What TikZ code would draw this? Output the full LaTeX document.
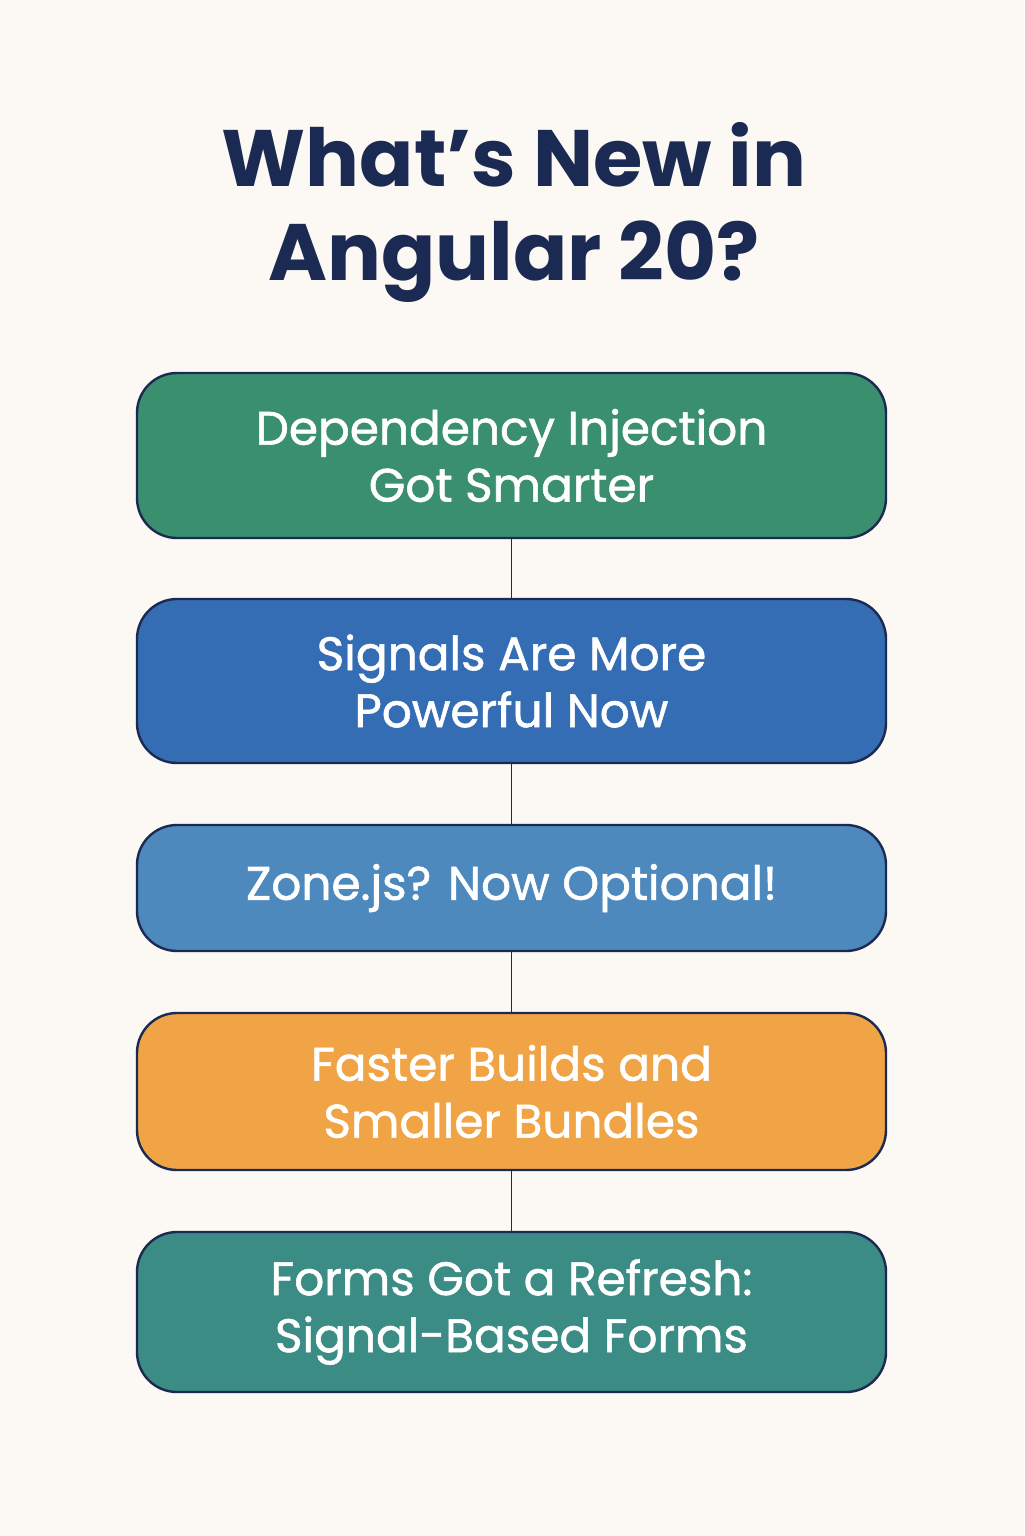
\documentclass[tikz,border=0pt]{standalone}
\usepackage{fontspec}
\setmainfont{Poppins}
\newfontfamily\cardfont{Poppins}[FakeBold=1.2]
\newfontfamily\titlefont{Poppins}[BoldFont=*,BoldFeatures={FakeBold=2.5}]
\definecolor{bg}{HTML}{FCF8F4}
\definecolor{navy}{HTML}{1B2A52}
\definecolor{cA}{HTML}{3A8F6E}
\definecolor{cB}{HTML}{356DB5}
\definecolor{cC}{HTML}{4E89BD}
\definecolor{cD}{HTML}{F0A445}
\definecolor{cE}{HTML}{3A8C84}
\begin{document}
\begin{tikzpicture}[x=0.5pt,y=-0.5pt,
  card/.style={draw=navy,line width=1.2pt,rounded corners=20pt,minimum width=374.5pt,text=white,align=center,font=\cardfont\fontsize{23.5}{28.5}\selectfont},
  link/.style={draw=navy,line width=0.6pt}]
\fill[bg] (0,0) rectangle (1024,1536);
\useasboundingbox (0,0) rectangle (1024,1536);
\node[text=navy,font=\bfseries\fontsize{40}{47}\selectfont,align=center] (title) at (514,212) {What’s New in\\Angular 20?};
\node[card,fill=cA,minimum height=82.5pt] (a) at (511.5,455.5) {Dependency Injection\\Got Smarter};
\node[card,fill=cB,minimum height=82pt] (b) at (511.5,681) {Signals Are More\\Powerful Now};
\node[card,fill=cC,minimum height=63pt] (c) at (511.5,888) {Zone.js? Now Optional!};
\node[card,fill=cD,minimum height=78.5pt] (d) at (511.5,1091.5) {Faster Builds and\\Smaller Bundles};
\node[card,fill=cE,minimum height=80pt] (e) at (511.5,1312) {Forms Got a Refresh:\\Signal-Based Forms};
\draw[link] (a) -- (b);
\draw[link] (b) -- (c);
\draw[link] (c) -- (d);
\draw[link] (d) -- (e);
\end{tikzpicture}
\end{document}
